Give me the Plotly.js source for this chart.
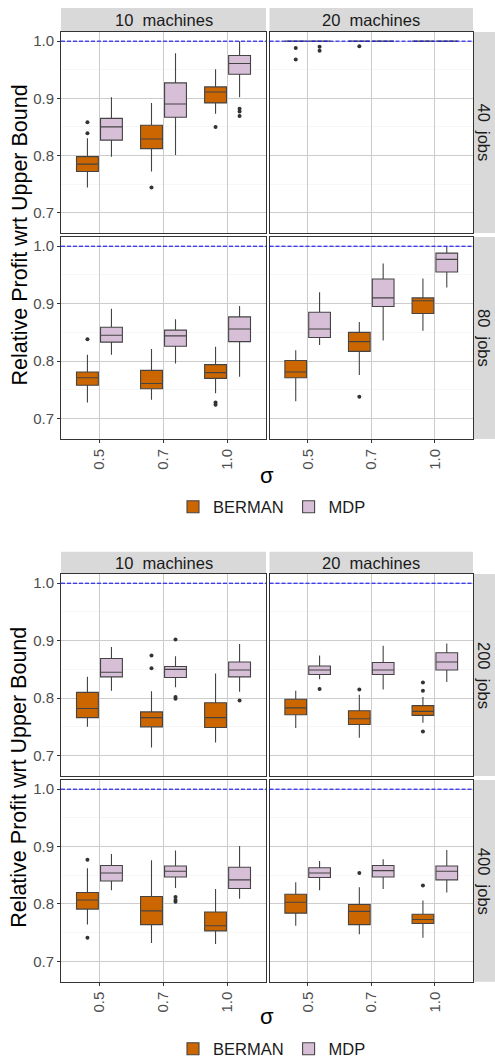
<!DOCTYPE html>
<html><head><meta charset="utf-8">
<script src="https://cdn.plot.ly/plotly-3.0.1.min.js"></script>
<style>html,body{margin:0;padding:0;background:#fff}#chart{width:495px;height:1057px}</style>
</head><body><div id="chart"></div>
<script>
// ---------------- data ----------------
const sigmaLabels = ['0.5', '0.7', '1.0'];
const machineLabels = ['10  machines', '20  machines'];
const jobLabelsTop = ['40  jobs', '80  jobs'];
const jobLabelsBottom = ['200  jobs', '400  jobs'];
const methods = ['BERMAN', 'MDP'];
const upperBound = 1.0;
const yTitle = 'Relative Profit wrt Upper Bound';
const xTitle = 'σ';

// stats per sigma: [lower whisker, q1, median, q3, upper whisker]
const j40m10_BERMAN = [[0.744, 0.772, 0.785, 0.798, 0.830], [0.772, 0.812, 0.829, 0.853, 0.892], [0.873, 0.892, 0.911, 0.920, 0.951]];
const j40m10_BERMAN_out = [[0.858, 0.839], [0.744], [0.850]];
const j40m10_MDP = [[0.798, 0.827, 0.850, 0.865, 0.902], [0.801, 0.867, 0.890, 0.927, 0.979], [0.902, 0.942, 0.961, 0.975, 1.000]];
const j40m10_MDP_out = [[], [], [0.882, 0.877, 0.869]];

const j40m20_BERMAN = [[1.0, 1.0, 1.0, 1.0, 1.0], [1.0, 1.0, 1.0, 1.0, 1.0], [1.0, 1.0, 1.0, 1.0, 1.0]];
const j40m20_BERMAN_out = [[0.988, 0.968], [0.991], []];
const j40m20_MDP = [[1.0, 1.0, 1.0, 1.0, 1.0], [1.0, 1.0, 1.0, 1.0, 1.0], [1.0, 1.0, 1.0, 1.0, 1.0]];
const j40m20_MDP_out = [[0.990, 0.983], [], []];

const j80m10_BERMAN = [[0.728, 0.758, 0.771, 0.781, 0.811], [0.733, 0.752, 0.761, 0.784, 0.821], [0.744, 0.770, 0.780, 0.794, 0.825]];
const j80m10_BERMAN_out = [[0.838], [], [0.728, 0.724]];
const j80m10_MDP = [[0.811, 0.833, 0.845, 0.859, 0.891], [0.796, 0.826, 0.844, 0.854, 0.873], [0.773, 0.834, 0.856, 0.877, 0.896]];
const j80m10_MDP_out = [[], [], []];

const j80m20_BERMAN = [[0.730, 0.771, 0.781, 0.801, 0.819], [0.776, 0.817, 0.834, 0.850, 0.868], [0.853, 0.883, 0.905, 0.910, 0.944]];
const j80m20_BERMAN_out = [[], [0.738], []];
const j80m20_MDP = [[0.828, 0.841, 0.856, 0.885, 0.920], [0.836, 0.895, 0.910, 0.943, 0.970], [0.928, 0.955, 0.977, 0.988, 0.999]];
const j80m20_MDP_out = [[], [], []];

const j200m10_BERMAN = [[0.750, 0.766, 0.782, 0.810, 0.837], [0.714, 0.750, 0.766, 0.776, 0.812], [0.723, 0.749, 0.766, 0.792, 0.843]];
const j200m10_BERMAN_out = [[], [0.874, 0.852], []];
const j200m10_MDP = [[0.813, 0.837, 0.845, 0.869, 0.889], [0.819, 0.836, 0.850, 0.855, 0.873], [0.811, 0.837, 0.849, 0.863, 0.894]];
const j200m10_MDP_out = [[], [0.902, 0.802, 0.799], [0.796]];

const j200m20_BERMAN = [[0.748, 0.771, 0.783, 0.798, 0.813], [0.731, 0.754, 0.764, 0.778, 0.806], [0.757, 0.770, 0.777, 0.787, 0.802]];
const j200m20_BERMAN_out = [[], [0.815], [0.827, 0.813, 0.742]];
const j200m20_MDP = [[0.833, 0.841, 0.849, 0.856, 0.874], [0.815, 0.841, 0.849, 0.862, 0.891], [0.828, 0.849, 0.863, 0.879, 0.895]];
const j200m20_MDP_out = [[0.816], [], []];

const j400m10_BERMAN = [[0.764, 0.791, 0.807, 0.820, 0.862], [0.732, 0.764, 0.788, 0.813, 0.876], [0.730, 0.753, 0.762, 0.786, 0.826]];
const j400m10_BERMAN_out = [[0.877, 0.741], [], []];
const j400m10_MDP = [[0.824, 0.840, 0.854, 0.867, 0.887], [0.828, 0.847, 0.857, 0.866, 0.893], [0.809, 0.827, 0.842, 0.864, 0.901]];
const j400m10_MDP_out = [[], [0.812, 0.807, 0.804], []];

const j400m20_BERMAN = [[0.762, 0.784, 0.803, 0.817, 0.838], [0.747, 0.764, 0.787, 0.799, 0.829], [0.741, 0.766, 0.773, 0.782, 0.806]];
const j400m20_BERMAN_out = [[], [0.854], [0.832]];
const j400m20_MDP = [[0.824, 0.846, 0.854, 0.863, 0.875], [0.826, 0.847, 0.858, 0.867, 0.878], [0.820, 0.842, 0.857, 0.866, 0.894]];
const j400m20_MDP_out = [[], [], []];

// ---------------- layout helpers ----------------
const W = 495, H = 1057;
const fx = p => p / W;
const fy = p => 1 - p / H;
const colorOf = {BERMAN: '#CC6600', MDP: '#D8BFD8'};
const FONT = '"Liberation Sans", Arial, Helvetica, sans-serif';
const yRange = [0.6645, 1.016];

const cols = [[61, 266], [269.5, 473]];
const figs = [
  {rows: [[32, 233], [237, 439]], strip: [8, 32], jobs: jobLabelsTop, xTitleY: 475, legendY: 507, legend: 'legend',
   panels: [[[j40m10_BERMAN, j40m10_BERMAN_out, j40m10_MDP, j40m10_MDP_out], [j40m20_BERMAN, j40m20_BERMAN_out, j40m20_MDP, j40m20_MDP_out]],
            [[j80m10_BERMAN, j80m10_BERMAN_out, j80m10_MDP, j80m10_MDP_out], [j80m20_BERMAN, j80m20_BERMAN_out, j80m20_MDP, j80m20_MDP_out]]]},
  {rows: [[574, 776], [780, 981.7]], strip: [551.7, 574], jobs: jobLabelsBottom, xTitleY: 1016, legendY: 1049, legend: 'legend2',
   panels: [[[j200m10_BERMAN, j200m10_BERMAN_out, j200m10_MDP, j200m10_MDP_out], [j200m20_BERMAN, j200m20_BERMAN_out, j200m20_MDP, j200m20_MDP_out]],
            [[j400m10_BERMAN, j400m10_BERMAN_out, j400m10_MDP, j400m10_MDP_out], [j400m20_BERMAN, j400m20_BERMAN_out, j400m20_MDP, j400m20_MDP_out]]]}
];

const traces = [];
const layout = {
  width: W, height: H,
  margin: {l: 0, r: 0, t: 0, b: 0, pad: 0, autoexpand: false},
  paper_bgcolor: '#ffffff', plot_bgcolor: '#ffffff',
  font: {family: FONT, color: '#1a1a1a'},
  boxmode: 'group', boxgap: 0.25, boxgroupgap: 0.09,
  showlegend: true,
  shapes: [], annotations: []
};

let n = 0;
figs.forEach((fig, fi) => {
  cols.forEach((c, ci) => {
    layout.shapes.push({type: 'rect', xref: 'paper', yref: 'paper', x0: fx(c[0]), x1: fx(c[1]), y0: fy(fig.strip[1]), y1: fy(fig.strip[0]),
      fillcolor: '#d9d9d9', line: {width: 0}, layer: 'below'});
    layout.annotations.push({xref: 'paper', yref: 'paper', x: fx((c[0] + c[1]) / 2), y: fy((fig.strip[0] + fig.strip[1]) / 2),
      text: machineLabels[ci], showarrow: false, xanchor: 'center', yanchor: 'middle', font: {size: 16.5, color: '#1a1a1a'}});
  });
  fig.rows.forEach((r, ri) => {
    layout.shapes.push({type: 'rect', xref: 'paper', yref: 'paper', x0: fx(473), x1: fx(495), y0: fy(r[1]), y1: fy(r[0]),
      fillcolor: '#d9d9d9', line: {width: 0}, layer: 'below'});
    layout.annotations.push({xref: 'paper', yref: 'paper', x: fx(484), y: fy((r[0] + r[1]) / 2),
      text: fig.jobs[ri], showarrow: false, textangle: 90, xanchor: 'center', yanchor: 'middle', font: {size: 16.5, color: '#1a1a1a'}});
    cols.forEach((c, ci) => {
      n += 1;
      const xa = n === 1 ? 'x' : 'x' + n, ya = n === 1 ? 'y' : 'y' + n;
      const xk = n === 1 ? 'xaxis' : 'xaxis' + n, yk = n === 1 ? 'yaxis' : 'yaxis' + n;
      const bottom = ri === 1, left = ci === 0;
      layout[xk] = {domain: [fx(c[0]), fx(c[1])], anchor: ya, type: 'category', categoryorder: 'array', categoryarray: sigmaLabels,
        range: [-0.6, 2.6], showgrid: true, gridcolor: '#cccccc', gridwidth: 1, zeroline: false,
        showline: true, mirror: true, linecolor: '#333333', linewidth: 1, automargin: false,
        ticks: bottom ? 'outside' : '', ticklen: 3, tickcolor: '#333333', showticklabels: bottom, tickangle: -90,
        tickfont: {size: 15, color: '#4d4d4d'}, fixedrange: true};
      layout[yk] = {domain: [fy(r[1]), fy(r[0])], anchor: xa, range: yRange, tick0: 0.7, dtick: 0.1, tickformat: '.1f',
        showgrid: true, gridcolor: '#cccccc', gridwidth: 1, zeroline: false, automargin: false,
        minor: {tick0: 0.65, dtick: 0.1, showgrid: true, gridcolor: '#f1f1f1', gridwidth: 0.6, ticks: ''},
        showline: true, mirror: true, linecolor: '#333333', linewidth: 1,
        ticks: left ? 'outside' : '', ticklen: 3, tickcolor: '#333333', showticklabels: left,
        tickfont: {size: 15, color: '#4d4d4d'}, fixedrange: true};
      const pd = fig.panels[ri][ci];
      methods.forEach((m, mi) => {
        const st = pd[mi * 2];
        // empty outlier lists get a null placeholder (not drawn) so every box keeps its sample row
        const out = pd[mi * 2 + 1].map(a => a.length ? a : [null]);
        traces.push({
          type: 'box', name: m, xaxis: xa, yaxis: ya, x: sigmaLabels,
          lowerfence: st.map(s => s[0]), q1: st.map(s => s[1]), median: st.map(s => s[2]),
          q3: st.map(s => s[3]), upperfence: st.map(s => s[4]),
          y: out,
          boxpoints: 'outliers', jitter: 0, pointpos: 0,
          marker: {color: '#333333', size: 4, outliercolor: '#333333', line: {width: 0}},
          fillcolor: colorOf[m], line: {color: '#444444', width: 1.1}, whiskerwidth: 0,
          offsetgroup: m, alignmentgroup: 'panel' + n,
          legendgroup: m + fi, legend: fig.legend,
          showlegend: n === fi * 4 + 1, hoverinfo: 'skip'
        });
      });
      layout.shapes.push({type: 'line', xref: xa + ' domain', yref: ya, x0: 0, x1: 1, y0: upperBound, y1: upperBound,
        line: {color: '#0000ff', width: 1, dash: '4px,2px'}, layer: 'above'});
    });
  });
  layout.annotations.push({xref: 'paper', yref: 'paper', x: fx(19), y: fy((fig.rows[0][0] + fig.rows[1][1]) / 2),
    text: yTitle, textangle: -90, showarrow: false, xanchor: 'center', yanchor: 'middle', font: {size: 21.5, color: '#000000'}});
  layout.annotations.push({xref: 'paper', yref: 'paper', x: fx((cols[0][0] + cols[1][1]) / 2), y: fy(fig.xTitleY),
    text: xTitle, showarrow: false, xanchor: 'center', yanchor: 'middle', font: {size: 22, color: '#000000'}});
  layout[fig.legend] = {orientation: 'h', x: fx(272), xanchor: 'center', y: fy(fig.legendY), yanchor: 'middle',
    font: {size: 16.5, color: '#1a1a1a'}, bgcolor: 'rgba(0,0,0,0)', itemwidth: 30, traceorder: 'normal'};
});

Plotly.newPlot('chart', traces, layout, {staticPlot: true, displayModeBar: false});
</script>
</body></html>
